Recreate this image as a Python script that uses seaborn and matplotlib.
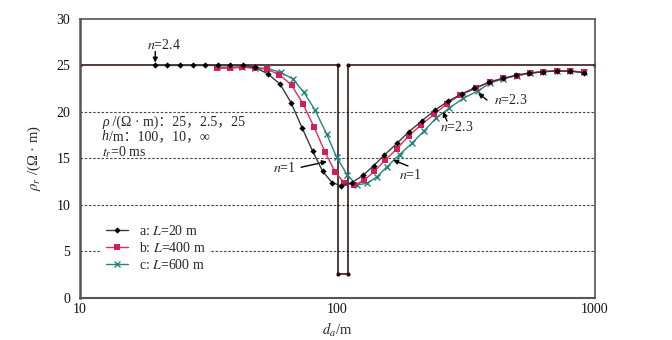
import numpy as np
import pandas as pd
import matplotlib
matplotlib.use("Agg")
import matplotlib.pyplot as plt
import seaborn as sns

# ---------------- data ----------------
x_a = [19.6, 21.8, 24.5, 27.4, 30.6, 34.2, 38.2, 42.8, 47.8, 53.6, 59.8, 66.0, 72.8, 80.0,
       87.6, 95.2, 103, 114, 126, 138, 152, 170, 189, 212, 239, 269, 304, 340, 389, 438,
       493, 556, 627, 710, 800, 906]
y_a = [25.0, 25.0, 25.0, 25.0, 25.0, 25.0, 25.0, 25.0, 24.8, 24.1, 23.0, 21.0, 18.3, 15.8,
       13.6, 12.4, 12.05, 12.4, 13.2, 14.2, 15.35, 16.6, 17.85, 19.0, 20.2, 21.15, 21.95,
       22.55, 23.2, 23.6, 23.95, 24.2, 24.33, 24.4, 24.37, 24.22]

x_b = [34.1, 38.2, 42.7, 47.8, 53.1, 59.5, 66.3, 73.3, 81.0, 89.4, 97.8, 106.0, 115.9,
       126.9, 139.0, 153.6, 169.8, 188.7, 211.0, 237.7, 267.0, 299.1, 345.1, 391.1, 437.9,
       496.4, 559.3, 629.9, 710.2, 799.8, 906.3]
y_b = [24.7, 24.7, 24.8, 24.7, 24.6, 24.0, 22.9, 20.9, 18.4, 15.7, 13.55, 12.4, 12.1, 12.65,
       13.6, 14.85, 16.0, 17.4, 18.6, 19.75, 20.9, 21.8, 22.55, 23.25, 23.6, 23.9, 24.15,
       24.33, 24.43, 24.43, 24.26]

x_c = [34.1, 38.2, 42.7, 47.8, 53.2, 60.2, 67.0, 74.1, 81.8, 90.8, 99.3, 109.2, 118.7,
       130.2, 142.0, 155.7, 174.1, 194.2, 216.8, 241.7, 271.0, 307.2, 352.2, 391.1, 437.9,
       496.4, 559.3, 629.9, 710.2, 799.8, 906.3]
y_c = [24.8, 24.8, 24.85, 24.75, 24.7, 24.25, 23.55, 22.1, 20.2, 17.6, 15.1, 13.2, 12.15,
       12.3, 13.0, 14.1, 15.4, 16.6, 17.95, 19.35, 20.4, 21.45, 22.28, 23.1, 23.55, 23.9,
       24.15, 24.33, 24.43, 24.43, 24.26]

model_x = [10, 100, 100, 110, 110, 1000]
model_y = [25, 25, 2.5, 2.5, 25, 25]

labels = [r"a: $L$=20 m", r"b: $L$=400 m", r"c: $L$=600 m"]
y_ticks = [0, 5, 10, 15, 20, 25, 30]
x_ticks = [10, 100, 1000]
grid_levels = [5, 10, 15, 20]

# ---------------- style ----------------
sns.set_theme(style="white")
plt.rcParams["font.family"] = ["Liberation Serif", "Noto Sans CJK SC"]
plt.rcParams["mathtext.fontset"] = "stix"
FS = 10

fig = plt.figure(figsize=(6.72, 3.4), dpi=100)
ax = fig.add_axes([80 / 672, 1 - 297.7 / 340, 515 / 672, 278.7 / 340])
ax.set_xscale("log")

for lv in grid_levels:
    ax.axhline(lv, color="#444444", lw=0.8, ls=(0, (2.2, 1.6)), zorder=1)

# model
sns.lineplot(x=model_x, y=model_y, ax=ax, color="#2a0606", lw=1.1, marker="o",
             markersize=3, markeredgewidth=0, sort=False, estimator=None, zorder=2)

df_a = pd.DataFrame({"x": x_a, "y": y_a})
df_b = pd.DataFrame({"x": x_b, "y": y_b})
df_c = pd.DataFrame({"x": x_c, "y": y_c})

sns.lineplot(data=df_c, x="x", y="y", ax=ax, color="#23857f", lw=1.0, marker="x",
             markersize=4.5, markeredgewidth=1.0, markeredgecolor="#23857f",
             sort=False, estimator=None, label=labels[2], zorder=3)
sns.lineplot(data=df_b, x="x", y="y", ax=ax, color="#f0285a", lw=1.0, marker="s",
             markersize=4, markeredgewidth=0, markerfacecolor="#d21e5a",
             sort=False, estimator=None, label=labels[1], zorder=4)
sns.lineplot(data=df_a, x="x", y="y", ax=ax, color="#3a3a3a", lw=1.0, marker="D",
             markersize=3.2, markeredgewidth=0, markerfacecolor="#000000",
             sort=False, estimator=None, label=labels[0], zorder=5)

ax.set_xlim(10, 1000)
ax.set_ylim(0, 30)
ax.set_xticks(x_ticks)
ax.set_xticklabels([str(v) for v in x_ticks])
ax.xaxis.set_minor_locator(matplotlib.ticker.NullLocator())
ax.set_yticks(y_ticks)
ax.tick_params(axis="both", length=0, labelsize=FS, colors="#111111")
ax.tick_params(axis="y", pad=7)
ax.tick_params(axis="x", pad=4)
for s in ax.spines.values():
    s.set_color("#555555")
    s.set_linewidth(1.2)
ax.spines["left"].set_linewidth(1.8)
ax.spines["bottom"].set_linewidth(1.5)

ax.set_xlabel(r"$d_a$/m", fontsize=FS + 0.5, labelpad=3)
ax.set_ylabel(r"$\rho_r$ /(Ω · m)", fontsize=FS + 0.5, labelpad=10)

# legend
handles, labs = ax.get_legend_handles_labels()
order = [labs.index(l) for l in labels]
leg = ax.legend([handles[i] for i in order], [labs[i] for i in order],
                loc="center left", bbox_to_anchor=(0.039, 0.178), frameon=True,
                facecolor="white", edgecolor="none", framealpha=1, fontsize=FS,
                handlelength=1.6, handletextpad=0.8, borderpad=0.4,
                labelspacing=0.2, borderaxespad=0)
leg.set_zorder(10)

# text block
t1 = ax.text(12.17, 18.9, "ρ", style="italic", fontsize=FS, va="center", ha="left")
ax.annotate(" /(Ω · m)：25，2.5，25", xy=(1, 0.5), xycoords=t1, va="center", ha="left",
            fontsize=FS)
t2 = ax.text(12.17, 17.35, "h", style="italic", fontsize=FS, va="center", ha="left")
ax.annotate("/m：100，10，∞", xy=(1, 0.5), xycoords=t2, va="center", ha="left", fontsize=FS)
ax.text(12.17, 15.7, r"$t_r$=0 ms", fontsize=FS, va="center", ha="left")

# annotations
arrow = dict(arrowstyle="-|>", color="black", lw=1.0, mutation_scale=7,
             shrinkA=0, shrinkB=0)
ax.text(21.2, 27.2, r"$n$=2.4", fontsize=FS, ha="center", va="center")
ax.annotate("", xy=(19.6, 25.3), xytext=(19.6, 26.5), arrowprops=arrow)

ax.text(62.5, 13.95, r"$n$=1", fontsize=FS, ha="center", va="center")
ax.annotate("", xy=(91.0, 14.66), xytext=(72.2, 14.04), arrowprops=arrow)

ax.text(191.2, 13.2, r"$n$=1", fontsize=FS, ha="center", va="center")
ax.annotate("", xy=(164.3, 14.82), xytext=(187.8, 14.18), arrowprops=arrow)

ax.text(289.8, 18.37, r"$n$=2.3", fontsize=FS, ha="center", va="center")
ax.annotate("", xy=(256.9, 20.02), xytext=(266.2, 19.02), arrowprops=arrow)

ax.text(471.8, 21.28, r"$n$=2.3", fontsize=FS, ha="center", va="center")
ax.annotate("", xy=(351.3, 22.03), xytext=(380.7, 21.28), arrowprops=arrow)

fig.savefig("out.png", dpi=100, facecolor="white")
